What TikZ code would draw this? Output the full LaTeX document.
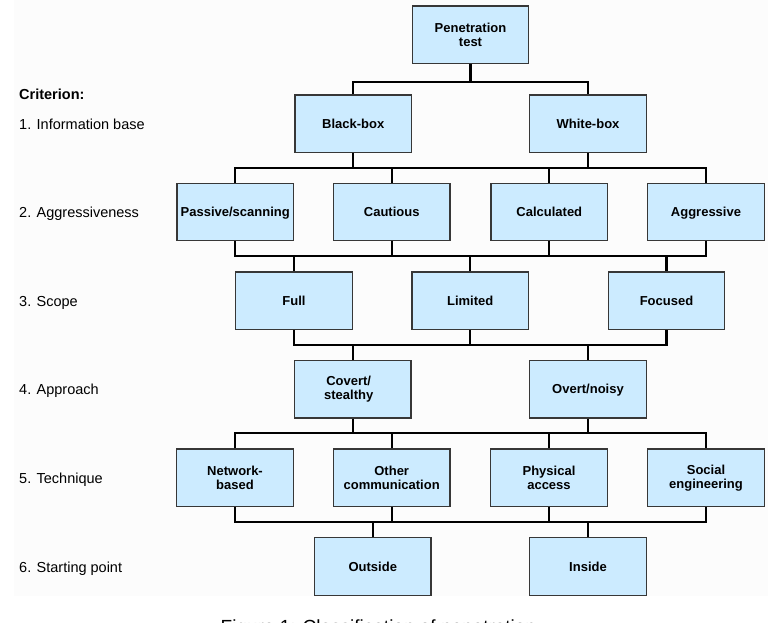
\documentclass[tikz,border=0pt]{standalone}
\usepackage{fontspec}
\setmainfont{Liberation Sans}
\definecolor{boxfill}{RGB}{204,235,255}
\definecolor{boxline}{RGB}{55,55,55}
\definecolor{bgc}{RGB}{252,252,252}
\tikzset{
  box/.style={draw=boxline, fill=boxfill, line width=1.2pt, minimum width=116.5pt,
    minimum height=57.5pt, inner sep=0pt, align=center,
    font=\fontsize{13}{14}\selectfont\bfseries},
  oneline/.style={text height=9.4pt, text depth=0pt},
  conn/.style={line width=2.2pt, draw=black},
  lab/.style={anchor=base west, inner sep=0pt, font=\fontsize{14.5}{17}\selectfont},
}
\begin{document}
\begin{tikzpicture}[x=1pt, y=-1pt]
\useasboundingbox (0,0) rectangle (774,622);
\fill[bgc] (14,0) rectangle (768,596);

% bus rows
\coordinate (r1) at (0,82);
\coordinate (r2) at (0,168);
\coordinate (r3) at (0,256);
\coordinate (r4) at (0,345.3);
\coordinate (r5) at (0,433.3);
\coordinate (r6) at (0,521.7);

% boxes
\node[box] (pen) at (470.5,34.7) {Penetration\\test};
\node[box, oneline] (black) at (353.2,123.7) {Black-box};
\node[box, oneline] (white) at (588,123.7) {White-box};
\node[box, oneline] (passive) at (235.2,212) {Passive/scanning};
\node[box, oneline] (cautious) at (391.7,212) {Cautious};
\node[box, oneline] (calc) at (549.3,212) {Calculated};
\node[box, oneline] (aggr) at (706,212) {Aggressive};
\node[box, oneline] (full) at (294,300.8) {Full};
\node[box, oneline] (limited) at (470.2,300.8) {Limited};
\node[box, oneline] (focused) at (666.5,300.8) {Focused};
\node[box] (covert) at (352.7,389.2) {Covert/\hspace*{8pt}\\stealthy\hspace*{8pt}};
\node[box, oneline] (overt) at (588,389.2) {Overt/noisy};
\node[box] (network) at (235,477.8) {Network-\\based};
\node[box] (other) at (391.7,477.8) {Other\\communication};
\node[box] (physical) at (549,477.8) {Physical\\access};
\node[box] (social) at (706,477.8) {Social\\engineering};
\node[box, oneline] (outside) at (372.8,566.5) {Outside};
\node[box, oneline] (inside) at (588,566.5) {Inside};

% level 1
\draw[conn] (black.north) |- (white.north |- r1) -- (white.north);
\draw[conn] (pen.south) -- (pen.south |- r1);
% level 2
\draw[conn] (passive.north) |- (aggr.north |- r2) -- (aggr.north);
\foreach \n in {cautious,calc}
  \draw[conn] (\n.north |- r2) -- (\n.north);
\foreach \n in {black,white}
  \draw[conn] (\n.south) -- (\n.south |- r2);
% level 3
\draw[conn] (passive.south) |- (aggr.south |- r3) -- (aggr.south);
\foreach \n in {cautious,calc}
  \draw[conn] (\n.south) -- (\n.south |- r3);
\foreach \n in {full,limited,focused}
  \draw[conn] (\n.north |- r3) -- (\n.north);
% level 4
\draw[conn] (full.south) |- (focused.south |- r4) -- (focused.south);
\draw[conn] (limited.south) -- (limited.south |- r4);
\foreach \n in {covert,overt}
  \draw[conn] (\n.north |- r4) -- (\n.north);
% level 5
\draw[conn] (network.north) |- (social.north |- r5) -- (social.north);
\foreach \n in {other,physical}
  \draw[conn] (\n.north |- r5) -- (\n.north);
\foreach \n in {covert,overt}
  \draw[conn] (\n.south) -- (\n.south |- r5);
% level 6
\draw[conn] (network.south) |- (social.south |- r6) -- (social.south);
\foreach \n in {other,physical}
  \draw[conn] (\n.south) -- (\n.south |- r6);
\foreach \n in {outside,inside}
  \draw[conn] (\n.north |- r6) -- (\n.north);

% criterion labels
\node[lab, font=\fontsize{14.5}{17}\selectfont\bfseries] (crit) at (19,99.2) {Criterion:};
\node[lab] (l1) at (19,129.2) {1. Information base};
\node[lab] (l2) at (19,217.3) {2. Aggressiveness};
\node[lab] (l3) at (19,306.3) {3. Scope};
\node[lab] (l4) at (19,394.7) {4. Approach};
\node[lab] (l5) at (19,483.3) {5. Technique};
\node[lab] (l6) at (19,572) {6. Starting point};

% caption (cut off by the lower edge, as in the reference)
\begin{scope}
\clip (0,0) rectangle (774,622);
\node[anchor=base west, inner sep=0pt, font=\fontsize{19}{22}\selectfont] (cap) at (220.5,633) {Figure 1: Classification of penetration};
\end{scope}
\end{tikzpicture}
\end{document}
